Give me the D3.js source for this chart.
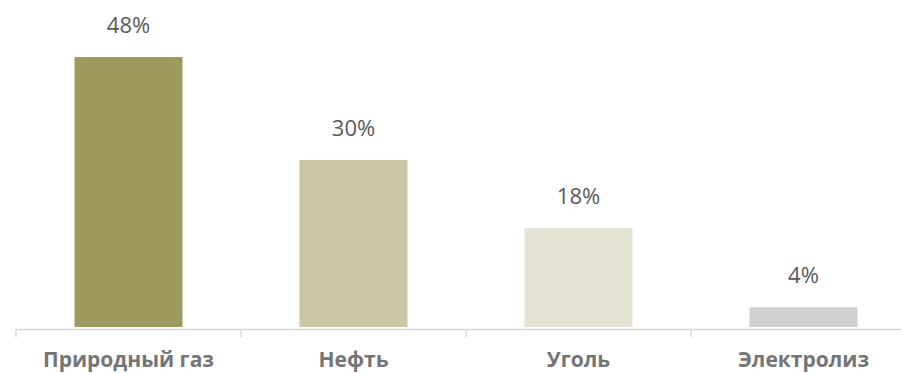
<!DOCTYPE html>
<html>
<head>
<meta charset="utf-8">
<script src="https://cdn.jsdelivr.net/npm/d3@7"></script>
<style>
  body { margin: 0; background: #fff; }
  text { font-family: "Open Sans", "Noto Sans", sans-serif; }
</style>
</head>
<body>
<svg id="chart" width="901" height="373"></svg>
<script>
var categories = ["Природный газ", "Нефть", "Уголь", "Электролиз"];
var values = [48, 29.7, 17.6, 3.5];
var valueLabels = ["48%", "30%", "18%", "4%"];
var colors = ["#9c9a5e", "#cbc6a6", "#e4e2d3", "#d0d0d0"];

var svg = d3.select("#chart"),
    baseline = 327,
    left = 16,
    bandStep = 225;

var x = d3.scaleBand()
    .domain(categories)
    .range([left, left + bandStep * categories.length])
    .paddingInner(0.52)
    .paddingOuter(0.26);

var y = d3.scaleLinear()
    .domain([0, 48])
    .range([baseline, 57]);

// axis line + tick marks at band edges
svg.append("line")
    .attr("x1", left).attr("x2", 901)
    .attr("y1", baseline + 2.5).attr("y2", baseline + 2.5)
    .attr("stroke", "#d9d9d9").attr("stroke-width", 1.5);

d3.range(categories.length + 1).forEach(function(i) {
  var tx = left + i * bandStep;
  svg.append("line")
      .attr("x1", tx).attr("x2", tx)
      .attr("y1", baseline + 2.5).attr("y2", baseline + 10)
      .attr("stroke", "#d9d9d9").attr("stroke-width", 1.5);
});

svg.selectAll("rect.bar")
    .data(values)
    .enter().append("rect")
    .attr("class", "bar")
    .attr("x", function(d, i) { return x(categories[i]); })
    .attr("width", x.bandwidth())
    .attr("y", function(d) { return y(d); })
    .attr("height", function(d) { return baseline - y(d); })
    .attr("fill", function(d, i) { return colors[i]; });

svg.selectAll("text.val")
    .data(values)
    .enter().append("text")
    .attr("class", "val")
    .attr("x", function(d, i) { return x(categories[i]) + x.bandwidth() / 2; })
    .attr("y", function(d) { return y(d) - 24; })
    .attr("text-anchor", "middle")
    .attr("font-size", "22px")
    .attr("fill", "#595959")
    .text(function(d, i) { return valueLabels[i]; });

svg.selectAll("text.cat")
    .data(categories)
    .enter().append("text")
    .attr("class", "cat")
    .attr("x", function(d) { return x(d) + x.bandwidth() / 2; })
    .attr("y", 367)
    .attr("text-anchor", "middle")
    .attr("font-size", "21px")
    .attr("font-weight", "bold")
    .attr("fill", "#757575")
    .text(function(d) { return d; });
</script>
</body>
</html>
